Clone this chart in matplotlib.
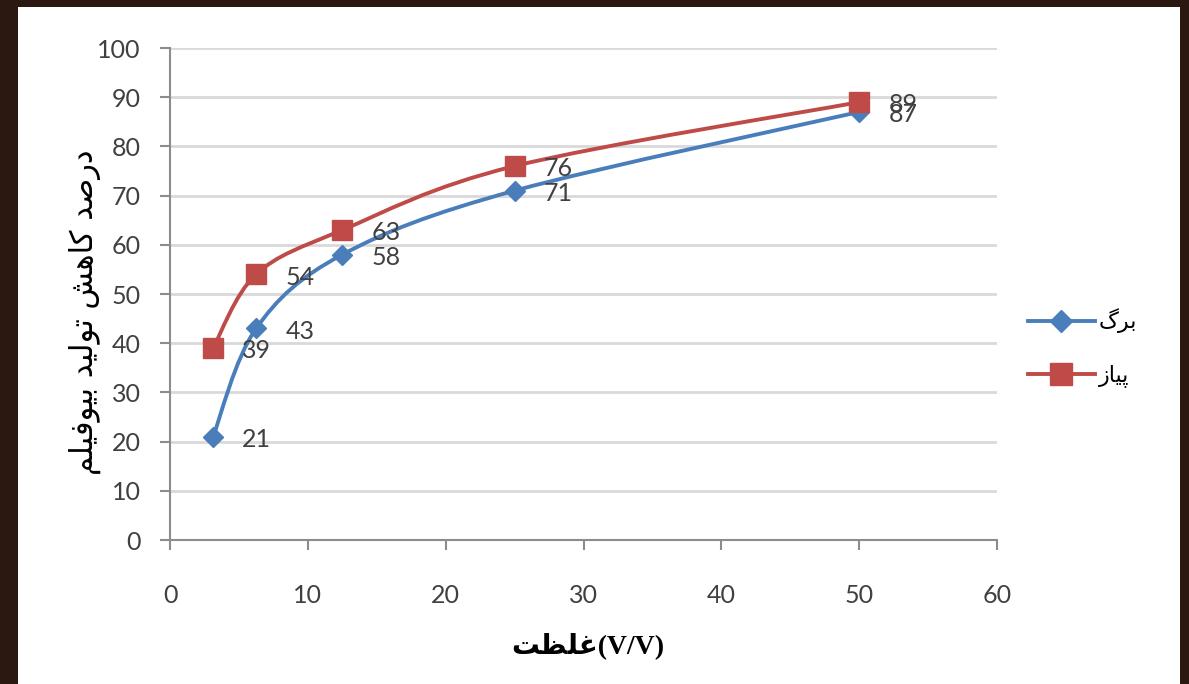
import numpy as np
import matplotlib.pyplot as plt
from matplotlib.path import Path
from matplotlib.patches import PathPatch, Rectangle
from matplotlib.lines import Line2D

# غلظت (V/V) و درصد کاهش تولید بیوفیلم
conc = [3.125, 6.25, 12.5, 25, 50]
leaf = [21, 43, 58, 71, 87]     # برگ
onion = [39, 54, 63, 76, 89]    # پیاز

# متن فارسی به صورت حروف نمایشی و ترتیب دیداری (matplotlib شکل‌دهی عربی ندارد)
leaf_name = "\uFB92\uFEAE\uFE91"                 # برگ
onion_name = "\uFEAF\uFE8E\uFBFF\uFB58"          # پیاز
x_title = "\uFE96\uFEC8\uFEE0\uFECF(V/V)"        # غلظت(V/V)
y_title = ("\uFEE2\uFEE0\uFBFF\uFED3\uFEEE\uFBFF\uFE91 "   # بیوفیلم
           "\uFEAA\uFBFF\uFEDF\uFEEE\uFE97 "               # تولید
           "\uFEB6\uFEEB\uFE8E\uFB90 "                     # کاهش
           "\uFEAA\uFEBB\uFEAD\uFEA9")                     # درصد

blue = '#4a7ebb'
red = '#be4b48'
text_col = '#404040'
grid_col = '#d9d9d9'
spine_col = '#8c8c8c'

plt.rcParams['font.family'] = ['Lato', 'DejaVu Sans']


def smooth_path(xs, ys):
    # منحنی هموار شبیه اکسل (بزیه از روی نقاط، کت‌مال-رام)
    pts = np.column_stack([xs, ys]).astype(float)
    ext = np.vstack([pts[0], pts, pts[-1]])
    verts = [pts[0]]
    codes = [Path.MOVETO]
    for i in range(1, len(ext) - 2):
        p0, p1, p2, p3 = ext[i - 1], ext[i], ext[i + 1], ext[i + 2]
        c1 = p1 + (p2 - p0) / 6.0
        c2 = p2 - (p3 - p1) / 6.0
        verts += [c1, c2, p2]
        codes += [Path.CURVE4] * 3
    return Path(verts, codes)


fig = plt.figure(figsize=(11.89, 6.84), dpi=100)
fig.patch.set_facecolor('#2b1810')
W, H = 1189, 684
fig.patches.append(Rectangle((18 / W, 0), (1180 - 18) / W, (684 - 7) / H,
                             transform=fig.transFigure, facecolor='white',
                             edgecolor='none', zorder=-10))

ax = fig.add_axes([170 / W, 1 - 540 / H, (997 - 170) / W, (540 - 48) / H])
ax.set_zorder(1)
ax.set_facecolor('none')
ax.set_xlim(0, 60)
ax.set_ylim(0, 100)
ax.set_xticks(np.arange(0, 61, 10))
ax.set_yticks(np.arange(0, 101, 10))
ax.yaxis.grid(True, color=grid_col, lw=2)
ax.set_axisbelow(True)
for s in ['top', 'right']:
    ax.spines[s].set_visible(False)
for s in ['left', 'bottom']:
    ax.spines[s].set_color(spine_col)
    ax.spines[s].set_linewidth(1.5)
ax.tick_params(axis='x', direction='out', length=7, width=1.5, color=spine_col,
               pad=25, labelsize=18, labelcolor=text_col)
ax.tick_params(axis='y', direction='out', length=7, width=1.5, color=spine_col,
               pad=14, labelsize=18, labelcolor=text_col)

ax.add_patch(PathPatch(smooth_path(conc, leaf), facecolor='none',
                       edgecolor=blue, lw=2.8, zorder=3))
ax.add_patch(PathPatch(smooth_path(conc, onion), facecolor='none',
                       edgecolor=red, lw=2.8, zorder=3))
ax.plot(conc, leaf, linestyle='none', marker='D', ms=10, color=blue,
        zorder=4, clip_on=False)
ax.plot(conc, onion, linestyle='none', marker='s', ms=14, color=red,
        zorder=4, clip_on=False)

# برچسب مقادیر کنار هر نقطه
for x, v in zip(conc, leaf):
    ax.annotate(str(v), (x, v), xytext=(21, -2), textcoords='offset points',
                ha='left', va='center', fontsize=18, color=text_col, zorder=5)
for x, v in zip(conc, onion):
    ax.annotate(str(v), (x, v), xytext=(21, -2), textcoords='offset points',
                ha='left', va='center', fontsize=18, color=text_col, zorder=5)

fig.text(85 / W, 1 - 312 / H, y_title, rotation=90, ha='center', va='center',
         fontsize=22, color='black', family=['DejaVu Sans'])
fig.text(588 / W, 1 - 646 / H, x_title, ha='center', va='center',
         fontsize=20, color='black', fontweight='bold',
         family=['Liberation Serif', 'DejaVu Sans'])

handles = [Line2D([], [], color=blue, lw=2.8, marker='D', ms=11),
           Line2D([], [], color=red, lw=2.8, marker='s', ms=16)]
fig.legend(handles, [leaf_name, onion_name], loc='center left',
           bbox_to_anchor=(1008 / W, 1 - 348 / H), frameon=False,
           prop={'family': 'DejaVu Sans', 'size': 16},
           handlelength=3.0, handletextpad=0.2, labelspacing=1.4)

fig.savefig('out.png', dpi=100, facecolor=fig.get_facecolor())
